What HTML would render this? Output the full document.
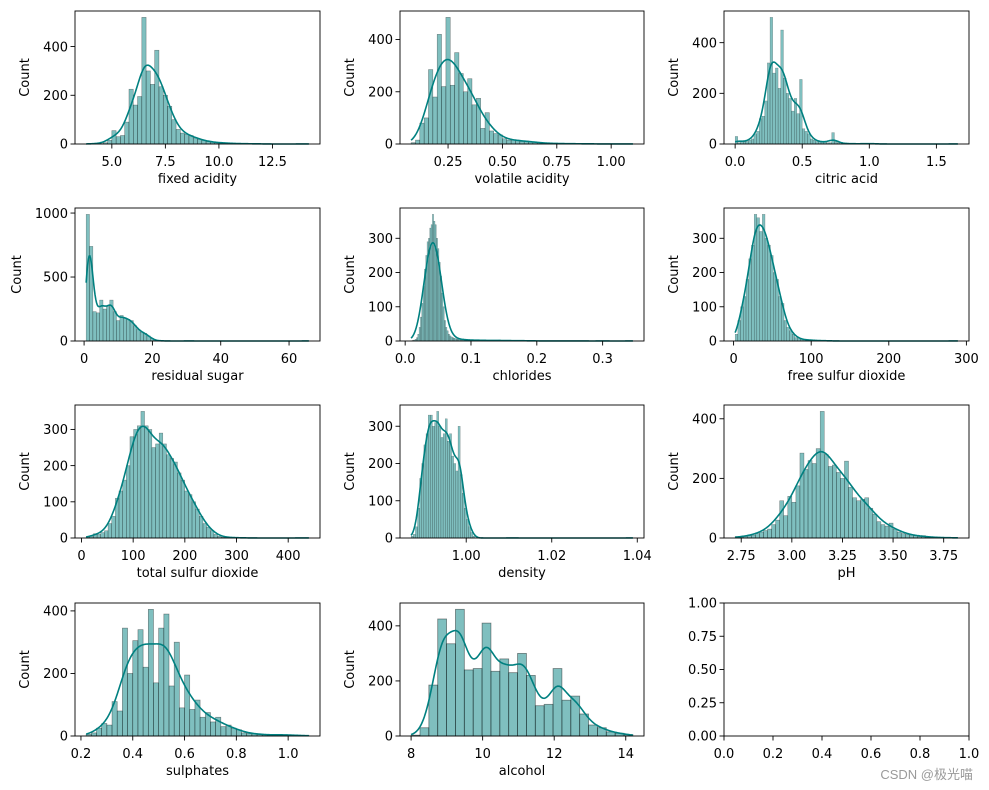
<!DOCTYPE html>
<html><head><meta charset="utf-8"><style>
html,body{margin:0;padding:0;background:#fff;}
svg{display:block;font-family:"DejaVu Sans","Liberation Sans",sans-serif;}
</style></head><body>
<svg id="fig" width="989" height="790" viewBox="0 0 989 790"></svg>
<script>
// ---- data (counts per bin, bins spanning [min,max]) ----
const fixedAcidityCounts = [1,0,2,2,5,15,55,30,35,90,225,160,195,520,300,245,385,235,200,155,100,60,45,40,35,25,20,15,10,8,6,5,4,3,2,2,1,1,1,1,1,0,0,0,0,0,0,0,0,0,0,1];
const volatileAcidityCounts = [5,15,80,100,285,180,420,220,485,225,350,270,200,250,150,175,60,120,50,40,35,20,15,15,15,10,12,8,8,5,3,3,2,2,2,1,1,1,1,1,1,0,1,0,0,1,0,0,0,0,1];
const citricAcidCounts = [30,5,10,10,10,15,20,40,50,100,110,170,320,500,280,300,220,450,260,200,180,130,180,120,255,60,50,40,20,15,10,10,8,8,5,5,45,10,5,2,2,2,1,1,1,1,1,1,1,1,3,1,0,1,0,0,0,0,0,0,0,0,0,0,0,0,0,0,0,0,0,0,0,0,0,0,0,0,0,0,0,0,1];
const residualSugarCounts = [990,740,230,220,320,250,270,320,230,160,200,180,170,160,120,90,70,60,40,20,5,2,1,1,0,0,0,0,0,0,1,0,0,0,0,0,0,0,0,0,0,0,0,0,0,0,0,0,0,0,0,0,0,0,0,0,0,0,0,0,0,0,0,0,0,1];
const chloridesCounts = [1,2,3,5,10,20,40,70,110,160,210,250,290,300,330,340,370,350,340,300,270,230,190,140,100,60,40,30,20,15,12,10,8,7,6,6,5,5,4,4,4,3,3,3,3,2,2,2,3,3,2,2,2,3,2,2,1,2,2,1,2,1,1,2,1,2,3,2,1,1,1,1,1,1,2,1,1,1,1,1,1,1,1,1,1,1,0,1,1,0,1,0,0,1,0,0,1,0,0,1,0,0,0,1,0,0,0,1,0,0,0,0,1,0,0,0,0,0,1,0,0,0,0,0,0,0,0,0,1,0,0,0,0,0,0,0,0,0,0,0,0,0,0,0,1,0,0,0,0,0,0,0,0,0,0,0,0,0,0,0,0,0,0,0,0,0,1];
const freeSulfurCounts = [20,60,100,130,180,240,280,370,360,320,370,300,280,250,200,180,130,110,60,40,30,20,10,8,5,4,3,3,2,2,1,1,1,1,0,1,0,0,0,0,0,0,0,0,0,0,0,0,0,0,0,0,0,0,0,0,0,0,0,0,0,0,0,0,0,0,0,0,0,0,0,0,0,0,0,0,0,0,0,0,0,1];
const totalSulfurCounts = [3,5,12,10,15,20,40,60,110,130,160,200,280,300,310,350,310,300,250,260,290,260,230,220,210,180,160,130,120,100,80,60,40,30,20,10,5,2,2,1,1,1,0,1,0,0,0,0,0,0,0,0,0,0,0,0,0,0,0,0,1];
const densityCounts = [5,10,30,80,160,200,250,280,330,330,300,310,340,300,270,280,320,260,280,220,200,180,300,170,120,80,50,30,15,5,0,0,0,0,0,0,0,0,0,0,0,0,0,0,0,0,0,1,0,0,0,0,0,0,0,0,0,0,0,0,0,0,0,0,0,0,0,0,0,0,0,0,0,0,0,0,0,0,0,0,0,0,0,0,0,0,0,0,0,0,0,0,0,0,0,0,0,0,0,0,0,0,0,1];
const phCounts = [5,3,5,8,10,15,20,25,30,45,60,125,75,140,120,175,285,230,260,250,300,425,280,240,245,220,200,258,170,135,125,130,135,100,80,55,45,40,50,30,20,15,12,10,8,5,8,3,2,2,1,1,1,1,1];
const sulphatesCounts = [5,10,25,40,35,110,80,345,200,305,340,220,405,170,345,390,160,300,90,195,85,115,60,75,45,60,30,35,25,20,10,8,8,5,4,3,3,5,4,3,2,1,2];
const alcoholCounts = [3,30,185,425,335,460,240,245,410,235,280,230,300,220,110,115,245,130,145,80,40,30,15,10,5];

const fixedAcidityXTicks = [5.0,7.5,10.0,12.5];
const volatileAcidityXTicks = [0.25,0.50,0.75,1.00];
const citricAcidXTicks = [0.0,0.5,1.0,1.5];
const residualSugarXTicks = [0,20,40,60];
const chloridesXTicks = [0.0,0.1,0.2,0.3];
const freeSulfurXTicks = [0,100,200,300];
const totalSulfurXTicks = [0,100,200,300,400];
const densityXTicks = [1.00,1.02,1.04];
const phXTicks = [2.75,3.00,3.25,3.50,3.75];
const sulphatesXTicks = [0.2,0.4,0.6,0.8,1.0];
const alcoholXTicks = [8,10,12,14];
const ticks200 = [0,200,400];
const ticks100 = [0,100,200,300];
const ticks500 = [0,500,1000];
const emptyTicks = [0,0.25,0.5,0.75,1.0];
const emptyXTicks = [0,0.2,0.4,0.6,0.8,1.0];

const panels = [
 {name:'fixed-acidity',label:'fixed acidity',min:3.8,max:14.2,counts:fixedAcidityCounts,xt:fixedAcidityXTicks,xd:1,yt:ticks200,col:0,row:0,sm:1.7},
 {name:'volatile-acidity',label:'volatile acidity',min:0.08,max:1.10,counts:volatileAcidityCounts,xt:volatileAcidityXTicks,xd:2,yt:ticks200,col:1,row:0,sm:1.7},
 {name:'citric-acid',label:'citric acid',min:0,max:1.66,counts:citricAcidCounts,xt:citricAcidXTicks,xd:1,yt:ticks200,col:2,row:0,sm:1.5},
 {name:'residual-sugar',label:'residual sugar',min:0.6,max:65.8,counts:residualSugarCounts,xt:residualSugarXTicks,xd:0,yt:ticks500,col:0,row:1,sm:1.0},
 {name:'chlorides',label:'chlorides',min:0.009,max:0.346,counts:chloridesCounts,xt:chloridesXTicks,xd:1,yt:ticks100,col:1,row:1,sm:2.4},
 {name:'free-sulfur-dioxide',label:'free sulfur dioxide',min:2,max:289,counts:freeSulfurCounts,xt:freeSulfurXTicks,xd:0,yt:ticks100,col:2,row:1,sm:1.7},
 {name:'total-sulfur-dioxide',label:'total sulfur dioxide',min:9,max:440,counts:totalSulfurCounts,xt:totalSulfurXTicks,xd:0,yt:ticks100,col:0,row:2,sm:1.5},
 {name:'density',label:'density',min:0.98711,max:1.03898,counts:densityCounts,xt:densityXTicks,xd:2,yt:ticks100,col:1,row:2,sm:1.4},
 {name:'ph',label:'pH',min:2.72,max:3.82,counts:phCounts,xt:phXTicks,xd:2,yt:ticks200,col:2,row:2,sm:1.7},
 {name:'sulphates',label:'sulphates',min:0.22,max:1.08,counts:sulphatesCounts,xt:sulphatesXTicks,xd:1,yt:ticks200,col:0,row:3,sm:1.5},
 {name:'alcohol',label:'alcohol',min:8.0,max:14.2,counts:alcoholCounts,xt:alcoholXTicks,xd:0,yt:ticks200,col:1,row:3,sm:0.9}
];

const NS='http://www.w3.org/2000/svg';
const svg=document.getElementById('fig');
const colL=[75,400,724], colW=[245,244,245], rowT=[11,208,405,603], H=133;
const FS=13;
function el(tag,attrs,parent){const e=document.createElementNS(NS,tag);for(const k in attrs)e.setAttribute(k,attrs[k]);(parent||svg).appendChild(e);return e;}
function txt(s,attrs,parent){const e=el('text',attrs,parent);e.textContent=s;return e;}
function digitsWidth(s){let w=0;for(const c of s)w+=(c==='.'?0.318:0.636);return w*FS;}

function drawAxesFrame(g,L,T,W,xs,ys,xt,xd,yt,yd){
  xt.forEach(v=>{const x=xs(v);
    const t=el('line',{x1:x,x2:x,y1:T+H,y2:T+H+4.5,stroke:'#000','stroke-width':0.9},g);
    
    
    const lb=txt(v.toFixed(xd),{x:x,y:T+H+22,'font-size':FS,'text-anchor':'middle',fill:'#000'},g);
    
    
  });
  let maxw=0;
  yt.forEach(v=>{const y=ys(v);
    const t=el('line',{x1:L-4.5,x2:L,y1:y,y2:y,stroke:'#000','stroke-width':0.9},g);
    
    
    const s=v.toFixed(yd);maxw=Math.max(maxw,digitsWidth(s));
    const lb=txt(s,{x:L-7,y:y+4.7,'font-size':FS,'text-anchor':'end',fill:'#000'},g);
    
    
  });
  const f=el('rect',{x:L,y:T,width:W,height:H,fill:'none',stroke:'#000','stroke-width':0.9},g);
  
  
  return maxw;
}

panels.forEach(p=>{
  const L=colL[p.col],W=colW[p.col],T=rowT[p.row];
  const g=el('g',{});
  
  
  const n=p.counts.length, bw=(p.max-p.min)/n, R=p.max-p.min;
  const x0=p.min-0.05*R, x1=p.max+0.05*R;
  const cmax=Math.max(...p.counts), ymax=cmax*1.05;
  const xs=v=>L+(v-x0)/(x1-x0)*W;
  const ys=v=>T+H-v/ymax*H;
  const bars=el('g',{},g);
  
  
  const bpx=bw/(x1-x0)*W;
  const sw=Math.min(0.8,Math.max(0.3,bpx*0.12));
  p.counts.forEach((c,i)=>{
    if(c<=0)return;
    const xa=xs(p.min+i*bw), xb=xs(p.min+(i+1)*bw);
    const r=el('rect',{x:xa,y:ys(c),width:Math.max(0.1,xb-xa),height:ys(0)-ys(c),fill:'rgb(0,128,128)','fill-opacity':0.5,stroke:'rgb(0,0,0)','stroke-opacity':0.45,'stroke-width':sw},bars);
    
    
  });
  let N=0,mu=0;p.counts.forEach((c,i)=>{N+=c;mu+=c*(p.min+(i+0.5)*bw);});mu/=N;
  let v2=0;p.counts.forEach((c,i)=>{const m=p.min+(i+0.5)*bw;v2+=c*(m-mu)*(m-mu);});
  const sd=Math.sqrt(v2/(N-1)), h=sd*Math.pow(N,-0.2)*p.sm;
  let d='';
  for(let k=0;k<=300;k++){
    const x=p.min+R*k/300;let s=0;
    p.counts.forEach((c,i)=>{if(!c)return;const z=(x-(p.min+(i+0.5)*bw))/h;if(Math.abs(z)<6)s+=c*Math.exp(-0.5*z*z);});
    const y=s*bw/(h*Math.sqrt(2*Math.PI));
    d+=(k?'L':'M')+xs(x).toFixed(2)+','+ys(y).toFixed(2);
  }
  const kde=el('path',{d:d,fill:'none',stroke:'#008080','stroke-width':1.6},g);
  
  
  const maxw=drawAxesFrame(g,L,T,W,xs,ys,p.xt,p.xd,p.yt,0);
  const xl=txt(p.label,{x:L+W/2,y:T+H+39,'font-size':FS,'text-anchor':'middle',fill:'#000'},g);
  
  
  const bx=L-7-maxw-14, by=T+H/2;
  const yl=txt('Count',{x:bx,y:by,'font-size':FS,'text-anchor':'middle',fill:'#000',transform:'rotate(-90 '+bx+' '+by+')'},g);
  
  
});

(function(){
  const L=colL[2],W=colW[2],T=rowT[3];
  const g=el('g',{});
  
  
  const xs=v=>L+v*W, ys=v=>T+H-v*H;
  drawAxesFrame(g,L,T,W,xs,ys,emptyXTicks,1,emptyTicks,2);
})();

const wm=txt('CSDN @极光喵',{x:973,y:779,'font-size':13,'text-anchor':'end',fill:'#9a9a9a','font-family':'"Liberation Sans","Noto Sans CJK SC",sans-serif'});


</script>
</body></html>
